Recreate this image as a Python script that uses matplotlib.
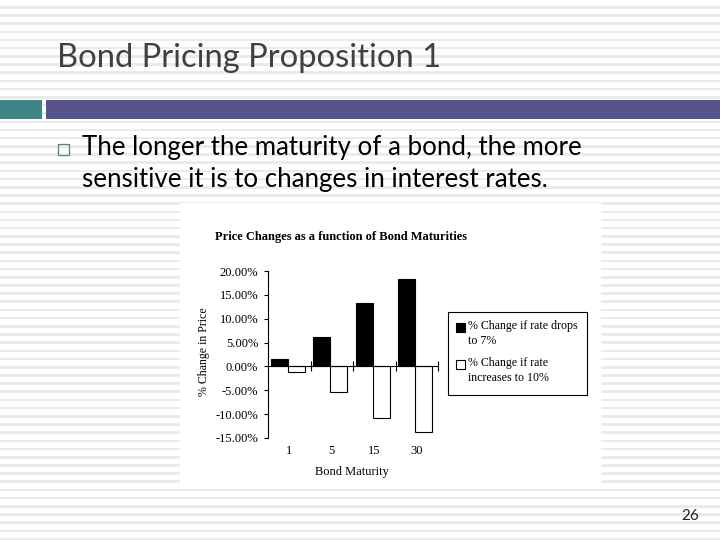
import numpy as np
import matplotlib
matplotlib.use("Agg")
import matplotlib.pyplot as plt
from matplotlib.patches import Rectangle

# data
maturities = ["1", "5", "15", "30"]
drop_to_7 = [1.5, 6.1, 13.2, 18.3]
rise_to_10 = [-1.1, -5.3, -10.8, -13.8]
yticks = [20, 15, 10, 5, 0, -5, -10, -15]
ytick_labels = ["20.00%", "15.00%", "10.00%", "5.00%", "0.00%", "-5.00%", "-10.00%", "-15.00%"]

slide_title = "Bond Pricing Proposition 1"
bullet_lines = ["The longer the maturity of a bond, the more",
                "sensitive it is to changes in interest rates."]
chart_title = "Price Changes as a function of Bond Maturities"
legend_labels = ["% Change if rate drops\nto 7%", "% Change if rate\nincreases to 10%"]
legend_colors = ["black", "white"]

W, H = 720, 540
fig = plt.figure(figsize=(7.2, 5.4), dpi=100)

# slide background in pixel coords
bg = fig.add_axes([0, 0, 1, 1])
bg.set_xlim(0, W)
bg.set_ylim(H, 0)
bg.axis("off")
for y in np.arange(6.0, H, 8.18):
    bg.add_patch(Rectangle((0, y), W, 2.6, color="#ebebeb", lw=0))

# header bands
bg.add_patch(Rectangle((0, 100), 42, 19, color="#3f8486", lw=0))
bg.add_patch(Rectangle((46, 100), W - 46, 19, color="#54538b", lw=0))

bg.text(57, 58, slide_title, fontsize=23.6, family="Lato", color="#404040", va="center", ha="left")

# bullet
bg.add_patch(Rectangle((57.5, 143.5), 11, 11.5, fill=False, ec="#5b7f80", lw=0.9))
bg.text(82, 148, bullet_lines[0], fontsize=18.6, family="Lato", color="black", va="center")
bg.text(82, 180, bullet_lines[1], fontsize=18.6, family="Lato", color="black", va="center")

bg.text(699, 516, "26", fontsize=11, family="Lato", color="#222222", va="center", ha="right")

# white chart picture
bg.add_patch(Rectangle((180, 203), 421, 280, color="white", lw=0))

serif = "Liberation Serif"
fs = 9
bg.text(215, 237, chart_title, fontsize=fs, family=serif, weight="bold", va="center", ha="left")
bg.text(204, 352, "% Change in Price", fontsize=8.6, family=serif, rotation=90, va="center", ha="center")
bg.text(352, 472, "Bond Maturity", fontsize=fs, family=serif, va="center", ha="center")

# legend box (handles aligned with first line, as in the picture)
bg.add_patch(Rectangle((448, 312), 139, 83, fill=False, ec="black", lw=0.8))
for k, (lab, col) in enumerate(zip(legend_labels, legend_colors)):
    yy = 327 + k * 37
    bg.add_patch(Rectangle((455.5, yy - 4.5), 9, 9, facecolor=col, edgecolor="black", lw=0.8))
    bg.text(468, yy - 7, lab, fontsize=8.6, family=serif, va="top", ha="left", linespacing=1.3)

# chart axes
ax = fig.add_axes([268 / W, 1 - 438 / H, 170 / W, 167 / H])
ax.patch.set_alpha(0)
x = np.arange(len(maturities))
ax.bar(x - 0.23, drop_to_7, width=0.4, color=legend_colors[0], edgecolor="black", lw=0.8)
ax.bar(x + 0.17, rise_to_10, width=0.4, color=legend_colors[1], edgecolor="black", lw=0.8)
ax.set_xlim(-0.5, 3.5)
ax.set_ylim(-15, 20)
ax.spines["top"].set_visible(False)
ax.spines["right"].set_visible(False)
ax.spines["bottom"].set_position(("data", 0))
ax.spines["left"].set_linewidth(0.8)
ax.spines["bottom"].set_linewidth(0.8)
ax.set_xticks(x + 0.5)
ax.set_xticklabels([])
ax.tick_params(axis="x", direction="inout", length=7, width=0.8)
ax.set_yticks(yticks)
ax.set_yticklabels(ytick_labels, fontsize=fs, family=serif)
ax.tick_params(axis="y", direction="out", length=3, width=0.8, pad=4)
for i, lab in enumerate(maturities):
    ax.text(i, -0.08, lab, transform=ax.get_xaxis_transform(), fontsize=fs,
            family=serif, ha="center", va="center")

fig.savefig("out.png", dpi=100)
